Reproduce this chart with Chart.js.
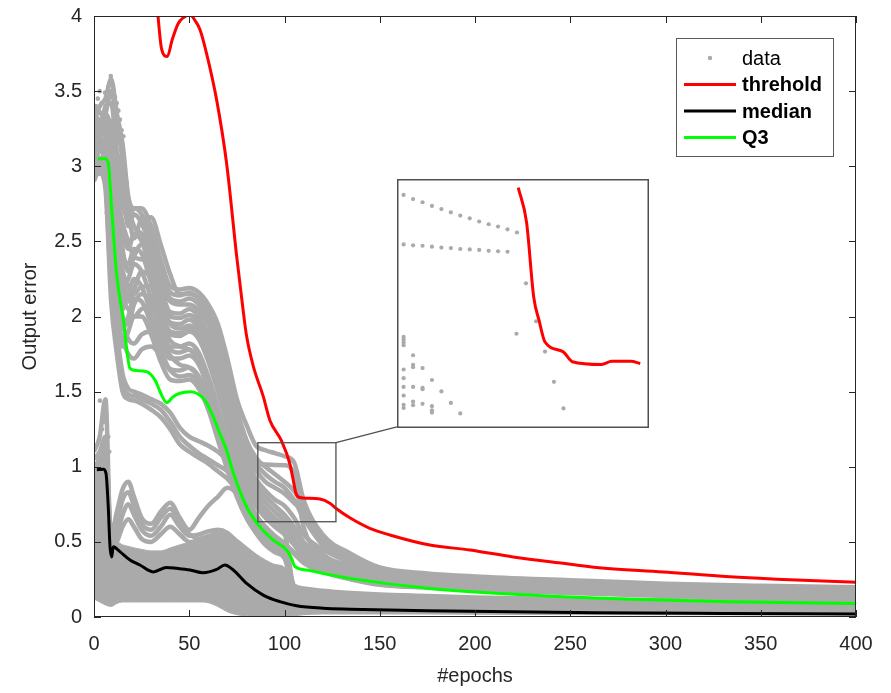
<!DOCTYPE html>
<html><head><meta charset="utf-8">
<script src="https://cdn.jsdelivr.net/npm/chart.js@4.4.1/dist/chart.umd.min.js"></script>
<style>
html,body{margin:0;padding:0;background:#fff;}
#wrap{position:relative;width:891px;height:693px;overflow:hidden;}
#main{position:absolute;left:0;top:0;}
#inset{position:absolute;left:397px;top:179px;}
</style></head><body>
<div id="wrap"><canvas id="main" width="891" height="693"></canvas><canvas id="inset" width="252" height="249"></canvas></div>
<script>
// ---------- tick values ----------
const xTickValues = [0, 50, 100, 150, 200, 250, 300, 350, 400];
const yTickValues = [0, 0.5, 1, 1.5, 2, 2.5, 3, 3.5, 4];
const legendLabels = ['data', 'threhold', 'median', 'Q3'];

// ---------- summary lines ----------
const threshX = [31, 33.6, 35.5, 38.5, 41, 44.2, 47, 50.4, 53, 55.6, 59.1, 64.4, 69.6, 74.9, 78.3, 80.1, 83.6, 88.8, 92.3, 98.5, 102.8, 104.6, 106, 108, 112, 118.6, 123.8, 127.3, 134.3, 144.8, 155.3, 176.3, 197.3, 220, 246.2, 263.7, 298.7, 333.7, 368.7, 400];
const threshY = [4.4, 4.0, 3.78, 3.73, 3.84, 3.95, 3.99, 4.01, 3.97, 3.91, 3.75, 3.44, 3.02, 2.4, 2.04, 1.87, 1.67, 1.47, 1.31, 1.17, 1.02, 0.91, 0.823, 0.795, 0.79, 0.785, 0.757, 0.72, 0.66, 0.59, 0.546, 0.479, 0.446, 0.40, 0.357, 0.33, 0.30, 0.268, 0.246, 0.232];
const medianX = [1.5, 4.9, 6.3, 7.5, 8.4, 9.3, 10.1, 13.6, 18.9, 24.1, 31.1, 38.1, 43.4, 50.4, 57.3, 64.4, 68.7, 73.1, 80.1, 88.8, 97.6, 106.3, 120.3, 134.3, 175, 263.7, 330, 400];
const medianY = [0.98, 0.983, 0.956, 0.73, 0.468, 0.40, 0.468, 0.435, 0.38, 0.346, 0.30, 0.33, 0.324, 0.313, 0.295, 0.317, 0.346, 0.313, 0.224, 0.146, 0.102, 0.075, 0.058, 0.052, 0.042, 0.029, 0.024, 0.02];
const q3X = [2, 5.8, 7.5, 9.3, 11.9, 15.4, 18.9, 22.4, 27.6, 32, 35.5, 38.1, 41.6, 45.1, 50.4, 53.9, 58.2, 62.6, 66.1, 69.6, 73.1, 80.1, 87.1, 94.1, 101.1, 103.7, 105.5, 111.6, 120.3, 134.3, 176.3, 228.7, 281.2, 333.7, 400];
const q3Y = [3.05, 3.05, 3.02, 2.71, 2.28, 1.98, 1.655, 1.64, 1.633, 1.577, 1.477, 1.426, 1.466, 1.489, 1.50, 1.489, 1.444, 1.333, 1.22, 1.11, 0.96, 0.734, 0.60, 0.512, 0.446, 0.39, 0.335, 0.313, 0.29, 0.257, 0.19, 0.146, 0.118, 0.102, 0.09];

// ---------- gray data: epochs at which curve values were read ----------
const epochGrid = [0,3,6,9,12,15,18,21,25,30,35,40,45,50,55,60,65,70,75,80,85,90,95,100,105,110,120,135,150,175,200,250,300,350,400];
const curveH1 = [3.3,3.4,3.45,3.58,3.35,3.15,2.8,2.72,2.72,2.6,2.38,2.2,2.18,2.19,2.16,2.08,1.95,1.72,1.45,1.28,1.14,1.11,1.09,1.07,1.03,0.78,0.55,0.42,0.33,0.29,0.27,0.245,0.222,0.208,0.198];
const curveH2 = [3.2,3.3,3.35,3.5,3.28,3.05,2.75,2.6,2.55,2.42,2.25,2.12,2.1,2.12,2.08,1.98,1.8,1.58,1.32,1.12,0.98,0.9,0.86,0.82,0.76,0.7,0.5,0.39,0.315,0.28,0.26,0.235,0.212,0.199,0.19];
const curveH3 = [3.38,3.36,3.3,3.2,2.85,2.62,2.5,2.4,2.38,2.35,2.22,2.1,2.08,2.08,2.04,1.95,1.76,1.52,1.28,1.06,0.92,0.84,0.78,0.74,0.66,0.55,0.45,0.36,0.3,0.27,0.25,0.225,0.203,0.19,0.181];
const curveH4 = [3.1,3.0,2.95,2.3,1.9,1.62,1.52,1.5,1.48,1.45,1.42,1.36,1.26,1.2,1.17,1.14,1.1,1.05,1.03,1.02,1.02,1.015,1.012,1.01,0.95,0.6,0.42,0.34,0.29,0.26,0.24,0.215,0.194,0.181,0.172];
const curveH5 = [3.1,3.25,3.2,3.3,3.0,2.85,2.6,2.68,2.62,2.45,2.2,2.03,2.02,2.05,2.0,1.88,1.68,1.45,1.22,1.0,0.88,0.8,0.74,0.68,0.6,0.5,0.4,0.33,0.28,0.25,0.23,0.205,0.185,0.172,0.163];
const curveH6 = [2.9,3.0,3.05,2.8,2.5,2.3,2.2,2.15,2.2,2.2,2.08,1.95,1.92,1.94,1.89,1.76,1.56,1.33,1.1,0.9,0.77,0.69,0.63,0.58,0.5,0.42,0.37,0.31,0.265,0.24,0.22,0.195,0.175,0.163,0.154];
const curveH7 = [3.05,3.15,3.1,2.9,2.7,2.55,2.45,2.55,2.5,2.3,2.1,1.96,1.95,1.98,1.92,1.78,1.58,1.35,1.12,0.93,0.8,0.72,0.66,0.6,0.52,0.44,0.35,0.29,0.25,0.225,0.205,0.185,0.165,0.153,0.145];
const curveH8 = [3.35,3.3,3.25,3.05,2.55,2.4,2.35,2.45,2.42,2.22,2.0,1.88,1.87,1.9,1.85,1.7,1.5,1.28,1.05,0.86,0.74,0.66,0.6,0.55,0.48,0.4,0.33,0.275,0.235,0.21,0.195,0.175,0.155,0.143,0.135];
const curveH9 = [2.95,3.05,3.0,2.75,2.4,2.2,2.25,2.35,2.3,2.12,1.92,1.8,1.8,1.82,1.76,1.6,1.4,1.18,0.97,0.8,0.68,0.6,0.54,0.49,0.43,0.37,0.31,0.26,0.22,0.2,0.185,0.165,0.145,0.135,0.127];
const curveE1 = [3.28,3.22,3.4,3.42,3.1,2.95,2.7,2.52,2.65,2.66,2.48,2.28,2.15,2.15,2.12,2.03,1.88,1.65,1.38,1.18,1.06,1.0,0.95,0.9,0.84,0.74,0.52,0.4,0.32,0.285,0.265,0.24,0.217,0.203,0.194];
const curveE2 = [3.02,3.12,3.18,3.1,2.78,2.45,2.3,2.4,2.48,2.38,2.16,2.0,1.99,2.01,1.96,1.83,1.62,1.4,1.17,0.96,0.84,0.76,0.7,0.64,0.56,0.47,0.38,0.31,0.27,0.24,0.22,0.2,0.18,0.168,0.158];
const curveE6 = [3.32,3.26,3.35,3.25,2.95,2.75,2.65,2.72,2.68,2.52,2.3,2.16,2.14,2.16,2.12,2.02,1.85,1.62,1.35,1.15,1.02,0.95,0.9,0.86,0.78,0.66,0.48,0.37,0.31,0.275,0.255,0.23,0.208,0.195,0.186];
const curveE4 = [2.92,2.98,3.12,2.65,2.3,2.0,1.95,2.08,2.15,2.1,1.95,1.78,1.76,1.78,1.72,1.57,1.37,1.15,0.94,0.77,0.66,0.58,0.52,0.47,0.42,0.36,0.3,0.25,0.215,0.195,0.18,0.16,0.14,0.13,0.122];
const curveD1 = [3.22,3.12,3.15,2.7,2.35,2.12,2.05,2.0,2.05,2.06,1.96,1.84,1.8,1.78,1.72,1.57,1.37,1.14,0.93,0.77,0.65,0.57,0.51,0.47,0.21,0.19,0.175,0.16,0.15,0.14,0.13,0.12,0.112,0.106,0.1];
const curveD2 = [3.25,3.2,3.1,2.6,2.25,2.05,2.15,2.25,2.2,2.02,1.85,1.72,1.72,1.74,1.68,1.52,1.32,1.1,0.9,0.74,0.63,0.55,0.49,0.45,0.2,0.18,0.17,0.155,0.145,0.135,0.125,0.115,0.107,0.101,0.096];
const curveD3 = [3.08,3.18,3.08,2.55,2.15,1.95,1.85,1.82,1.88,1.9,1.84,1.74,1.68,1.66,1.6,1.46,1.27,1.06,0.87,0.72,0.61,0.53,0.47,0.43,0.2,0.175,0.165,0.15,0.14,0.13,0.12,0.11,0.102,0.096,0.092];
const curveD4 = [2.98,3.02,2.9,2.2,1.8,1.55,1.48,1.47,1.45,1.42,1.38,1.3,1.2,1.14,1.09,1.05,1.01,0.97,0.9,0.8,0.68,0.58,0.5,0.44,0.19,0.17,0.16,0.145,0.135,0.125,0.115,0.105,0.097,0.092,0.088];
const curveD5 = [3.0,2.95,2.98,2.5,2.1,1.92,2.0,2.12,2.1,1.95,1.78,1.65,1.64,1.66,1.6,1.45,1.25,1.03,0.84,0.69,0.58,0.51,0.46,0.42,0.19,0.17,0.155,0.14,0.13,0.12,0.11,0.1,0.092,0.088,0.084];
const curveD6 = [3.05,2.97,2.85,2.1,1.75,1.5,1.45,1.44,1.42,1.38,1.33,1.25,1.15,1.1,1.06,1.02,0.97,0.92,0.84,0.74,0.63,0.54,0.47,0.41,0.18,0.16,0.15,0.135,0.125,0.115,0.105,0.095,0.088,0.084,0.08];
const curveD7 = [3.15,3.1,3.05,2.45,1.95,1.8,1.9,2.0,2.0,1.88,1.7,1.58,1.57,1.58,1.52,1.38,1.18,0.98,0.8,0.66,0.56,0.48,0.43,0.39,0.18,0.16,0.145,0.13,0.12,0.11,0.1,0.09,0.084,0.08,0.077];
const curveE3 = [3.18,3.28,3.22,2.95,2.62,2.28,2.1,2.18,2.3,2.25,2.04,1.9,1.89,1.92,1.87,1.73,1.53,1.3,1.08,0.88,0.75,0.67,0.61,0.56,0.2,0.18,0.17,0.15,0.145,0.135,0.125,0.115,0.105,0.1,0.095];
const curveE5 = [3.12,3.05,3.0,2.4,2.0,1.85,1.75,1.72,1.78,1.8,1.74,1.64,1.6,1.61,1.56,1.42,1.22,1.01,0.83,0.68,0.58,0.5,0.45,0.41,0.19,0.165,0.15,0.14,0.13,0.12,0.11,0.1,0.092,0.087,0.083];
const curveS1 = [1.0,1.05,1.15,0.55,0.7,0.85,0.9,0.8,0.66,0.62,0.7,0.76,0.66,0.58,0.66,0.74,0.8,0.86,0.82,0.7,0.6,0.52,0.46,0.41,0.17,0.15,0.14,0.125,0.115,0.105,0.098,0.09,0.083,0.078,0.074];
const curveS2 = [0.95,1.0,1.1,0.5,0.62,0.78,0.83,0.74,0.62,0.58,0.66,0.72,0.62,0.55,0.52,0.5,0.48,0.45,0.4,0.33,0.27,0.22,0.18,0.15,0.13,0.12,0.11,0.1,0.095,0.09,0.085,0.08,0.075,0.07,0.068];
const curveS3 = [1.05,1.1,1.2,0.48,0.55,0.68,0.75,0.68,0.58,0.54,0.6,0.68,0.6,0.54,0.55,0.57,0.58,0.56,0.5,0.42,0.35,0.29,0.24,0.2,0.17,0.15,0.13,0.115,0.105,0.1,0.095,0.088,0.082,0.078,0.075];
const curveS4 = [1.1,1.2,1.45,0.45,0.5,0.6,0.65,0.6,0.52,0.5,0.55,0.6,0.55,0.5,0.5,0.52,0.54,0.52,0.46,0.38,0.3,0.24,0.2,0.17,0.14,0.12,0.1,0.09,0.085,0.08,0.075,0.07,0.065,0.06,0.058];
const bandTop    = [1.0,1.08,1.1,0.52,0.5,0.48,0.47,0.46,0.45,0.44,0.44,0.46,0.48,0.5,0.53,0.55,0.57,0.56,0.52,0.47,0.42,0.38,0.35,0.33,0.17,0.15,0.135,0.125,0.115,0.105,0.095,0.085,0.08,0.075,0.072];
const bandBottom = [0.12,0.1,0.08,0.07,0.09,0.1,0.1,0.1,0.1,0.1,0.1,0.1,0.1,0.1,0.1,0.095,0.07,0.035,0.015,0.008,0.004,0.003,0.003,0.004,0.008,0.015,0.02,0.02,0.02,0.02,0.018,0.016,0.015,0.014,0.013];
const earlyDotsX = [8.8,9.3,10.1,7.5,11,5.8,11.9,12.8,13.6,14.5,15.4,13.6,14.5,15.4,15.4,16.3,17.2,14.5,15.4,13.6,15.4,17.2,11.9,8.4,7.5,6.7,7.5,8.4,10.1,11,11.9,12.7,3.1,4.2,5.5,6.5,7.5,8.0,2.0,3.0,4.0,1.0];
const earlyDotsY = [3.60,3.55,3.51,3.53,3.46,3.49,3.42,3.37,3.31,3.24,3.2,3.17,3.13,3.08,3.02,2.95,2.89,2.93,2.86,2.82,2.80,2.73,2.75,2.86,2.93,2.69,2.64,2.60,2.53,2.46,2.38,2.29,1.44,1.25,1.3,1.35,1.2,1.1,3.45,3.5,3.42,3.4];

// ---------- inset (zoomed window) data ----------
const zoomWindowX = [86, 127];
const zoomWindowY = [0.634, 1.16];
const insetAnchor = [159.0, 1.265]; // inset lower-left corner in main data units
const insetRedX = [105.7, 107.1, 108.3, 109.2, 110.2, 113.2, 114.8, 119.7, 121.4, 124.6, 126.2];
const insetRedY = [1.150, 1.074, 0.911, 0.86, 0.813, 0.792, 0.770, 0.764, 0.771, 0.771, 0.766];
const insetDotsX = [86.44,88.03,89.62,91.2,92.79,94.38,95.96,97.55,99.14,100.73,102.31,103.9,105.49,
  86.44,88.03,89.62,91.2,92.79,94.38,95.96,97.55,99.14,100.73,102.31,103.9,
  107.0,108.7,105.4,110.2,111.7,113.3,
  86.44,86.44,86.44,86.44,86.44,86.44,86.44,86.44,86.44,86.44,
  88.03,88.03,88.03,88.03,88.03,88.03,
  89.62,89.62,89.62,89.62,
  91.2,91.2,91.2,91.2,
  92.79,94.38,95.96];
const insetDotsY = [1.134,1.125,1.118,1.110,1.103,1.096,1.089,1.083,1.076,1.070,1.065,1.059,1.052,
  1.026,1.024,1.023,1.021,1.019,1.018,1.016,1.015,1.014,1.012,1.011,1.010,
  0.941,0.858,0.831,0.792,0.726,0.668,
  0.824,0.818,0.812,0.806,0.753,0.734,0.715,0.696,0.676,0.669,
  0.784,0.763,0.758,0.715,0.683,0.675,
  0.756,0.713,0.710,0.678,
  0.730,0.673,0.664,0.659,
  0.705,0.680,0.657];

// ---------- styling ----------
const GRAY = 'rgb(170,170,170)';
const RED = 'rgb(255,0,0)';
const GREEN = 'rgb(0,255,0)';
const BLACK = 'rgb(0,0,0)';
const AXIS = 'rgb(38,38,38)';
const FONT = "'Liberation Sans', Arial, Helvetica, sans-serif";
Chart.defaults.font.family = FONT;
Chart.defaults.font.size = 20;
Chart.defaults.color = AXIS;

const pts = (xs, ys) => xs.map((x, i) => ({x, y: ys[i]}));
const onGrid = ys => epochGrid.map((x, i) => ({x, y: ys[i]}));

const grayCurves = [curveH1,curveH2,curveH3,curveH4,curveH5,curveH6,curveH7,curveH8,curveH9,
  curveE1,curveE2,curveE6,curveE4,
  curveD1,curveD2,curveD3,curveD4,curveD5,curveD6,curveD7,curveE3,curveE5,
  curveS1,curveS2,curveS3,curveS4];

const lineBase = {pointRadius: 0, cubicInterpolationMode: 'monotone', clip: 0, fill: false};
const datasets = [
  Object.assign({label: legendLabels[1], data: pts(threshX, threshY), borderColor: RED, borderWidth: 3, order: 3}, lineBase),
  Object.assign({label: legendLabels[2], data: pts(medianX, medianY), borderColor: BLACK, borderWidth: 3, order: 2}, lineBase),
  Object.assign({label: legendLabels[3], data: pts(q3X, q3Y), borderColor: GREEN, borderWidth: 3, order: 1}, lineBase),
  Object.assign({label: 'bandBottom', data: onGrid(bandBottom), borderColor: GRAY, borderWidth: 1, order: 10}, lineBase),
  Object.assign({}, lineBase, {label: 'bandTop', data: onGrid(bandTop), borderColor: GRAY, backgroundColor: GRAY, borderWidth: 1, fill: '-1', order: 10}),
];
grayCurves.forEach((c, i) => datasets.push(Object.assign({label: 'data' + i, data: onGrid(c), borderColor: GRAY, borderWidth: 4.5, order: 10}, lineBase)));
datasets.push({label: legendLabels[0], data: pts(earlyDotsX, earlyDotsY), showLine: false, pointRadius: 2.3, pointBackgroundColor: GRAY, pointBorderWidth: 0, order: 10, clip: 0});

const decorPlugin = {
  id: 'decor',
  beforeDraw(chart) {
    const c = chart.ctx; c.save(); c.fillStyle = '#fff'; c.fillRect(0, 0, chart.width, chart.height); c.restore();
  },
  afterDraw(chart) {
    const ctx = chart.ctx, a = chart.chartArea, x = chart.scales.x, y = chart.scales.y;
    ctx.save();
    // zoom window rectangle and connector
    const zx0 = x.getPixelForValue(zoomWindowX[0]), zx1 = x.getPixelForValue(zoomWindowX[1]);
    const zy0 = y.getPixelForValue(zoomWindowY[1]), zy1 = y.getPixelForValue(zoomWindowY[0]);
    ctx.strokeStyle = 'rgb(80,80,80)'; ctx.lineWidth = 1.3;
    ctx.strokeRect(zx0, zy0, zx1 - zx0, zy1 - zy0);
    ctx.beginPath(); ctx.moveTo(zx1, zy0);
    ctx.lineTo(x.getPixelForValue(insetAnchor[0]), y.getPixelForValue(insetAnchor[1])); ctx.stroke();
    // axes box
    ctx.strokeStyle = AXIS; ctx.lineWidth = 1;
    ctx.strokeRect(a.left + 0.5, a.top + 0.5, a.width - 1, a.height - 1);
    // inward ticks on all four sides
    const tl = 7;
    ctx.beginPath();
    xTickValues.forEach(v => { const px = Math.round(x.getPixelForValue(v)) + 0.5;
      ctx.moveTo(px, a.bottom); ctx.lineTo(px, a.bottom - tl); ctx.moveTo(px, a.top); ctx.lineTo(px, a.top + tl); });
    yTickValues.forEach(v => { const py = Math.round(y.getPixelForValue(v)) + 0.5;
      ctx.moveTo(a.left, py); ctx.lineTo(a.left + tl, py); ctx.moveTo(a.right, py); ctx.lineTo(a.right - tl, py); });
    ctx.stroke();
    // legend
    const L = a.right - 180, T = a.top + 22, W = 157, H = 118;
    ctx.fillStyle = '#fff'; ctx.fillRect(L, T, W, H);
    ctx.strokeStyle = 'rgb(90,90,90)'; ctx.lineWidth = 1; ctx.strokeRect(L + 0.5, T + 0.5, W, H);
    const colors = [GRAY, RED, BLACK, GREEN];
    ctx.textBaseline = 'middle'; ctx.textAlign = 'left';
    legendLabels.forEach((lab, i) => {
      const cy = T + 20 + i * 26.5;
      if (i === 0) {
        ctx.fillStyle = GRAY; ctx.beginPath(); ctx.arc(L + 34, cy, 2.2, 0, Math.PI * 2); ctx.fill();
        ctx.font = '20px ' + FONT;
      } else {
        ctx.strokeStyle = colors[i]; ctx.lineWidth = 3; ctx.beginPath();
        ctx.moveTo(L + 8, cy); ctx.lineTo(L + 60, cy); ctx.stroke();
        ctx.font = 'bold 20px ' + FONT;
      }
      ctx.fillStyle = '#000';
      ctx.fillText(lab, L + 66, cy + 1);
    });
    ctx.restore();
  }
};

new Chart(document.getElementById('main'), {
  type: 'line',
  data: {datasets},
  options: {
    responsive: false, animation: false, events: [],
    layout: {padding: {left: 18, right: 35, top: 16, bottom: 5}},
    plugins: {legend: {display: false}, tooltip: {enabled: false}},
    scales: {
      x: {type: 'linear', min: 0, max: 400,
        afterBuildTicks: s => { s.ticks = xTickValues.map(v => ({value: v})); },
        afterFit: s => { s.height = 71; s.paddingLeft = 0; s.paddingRight = 0; },
        grid: {display: false, drawTicks: false}, border: {display: false},
        ticks: {padding: 15, color: AXIS, font: {size: 20}, maxRotation: 0, callback: v => String(v)},
        title: {display: true, text: '#epochs', color: AXIS, font: {size: 20}, padding: {top: 0, bottom: 0}}},
      y: {type: 'linear', min: 0, max: 4,
        afterBuildTicks: s => { s.ticks = yTickValues.map(v => ({value: v})); },
        afterFit: s => { s.width = 76; s.paddingTop = 0; s.paddingBottom = 0; },
        grid: {display: false, drawTicks: false}, border: {display: false},
        ticks: {padding: 12, color: AXIS, font: {size: 20}, callback: v => String(v)},
        title: {display: true, text: 'Output error', color: AXIS, font: {size: 20}, padding: {top: 0, bottom: 0}}}
    }
  },
  plugins: [decorPlugin]
});

// ---------- inset chart ----------
const insetPlugin = {
  id: 'insetFrame',
  beforeDraw(chart) { const c = chart.ctx; c.save(); c.fillStyle = '#fff'; c.fillRect(0, 0, chart.width, chart.height); c.restore(); },
  afterDraw(chart) { const c = chart.ctx; c.save(); c.strokeStyle = 'rgb(80,80,80)'; c.lineWidth = 1.5;
    c.strokeRect(0.75, 0.75, chart.width - 1.5, chart.height - 1.5); c.restore(); }
};
new Chart(document.getElementById('inset'), {
  type: 'line',
  data: {datasets: [
    Object.assign({label: 'threhold', data: pts(insetRedX, insetRedY), borderColor: RED, borderWidth: 3, order: 1}, lineBase),
    {label: 'data', data: pts(insetDotsX, insetDotsY), showLine: false, pointRadius: 2.1, pointBackgroundColor: GRAY, pointBorderWidth: 0, order: 2}
  ]},
  options: {
    responsive: false, animation: false, events: [],
    layout: {padding: 0},
    plugins: {legend: {display: false}, tooltip: {enabled: false}},
    scales: {
      x: {type: 'linear', display: false, min: zoomWindowX[0], max: zoomWindowX[1]},
      y: {type: 'linear', display: false, min: zoomWindowY[0], max: zoomWindowY[1]}
    }
  },
  plugins: [insetPlugin]
});
</script>
</body></html>
